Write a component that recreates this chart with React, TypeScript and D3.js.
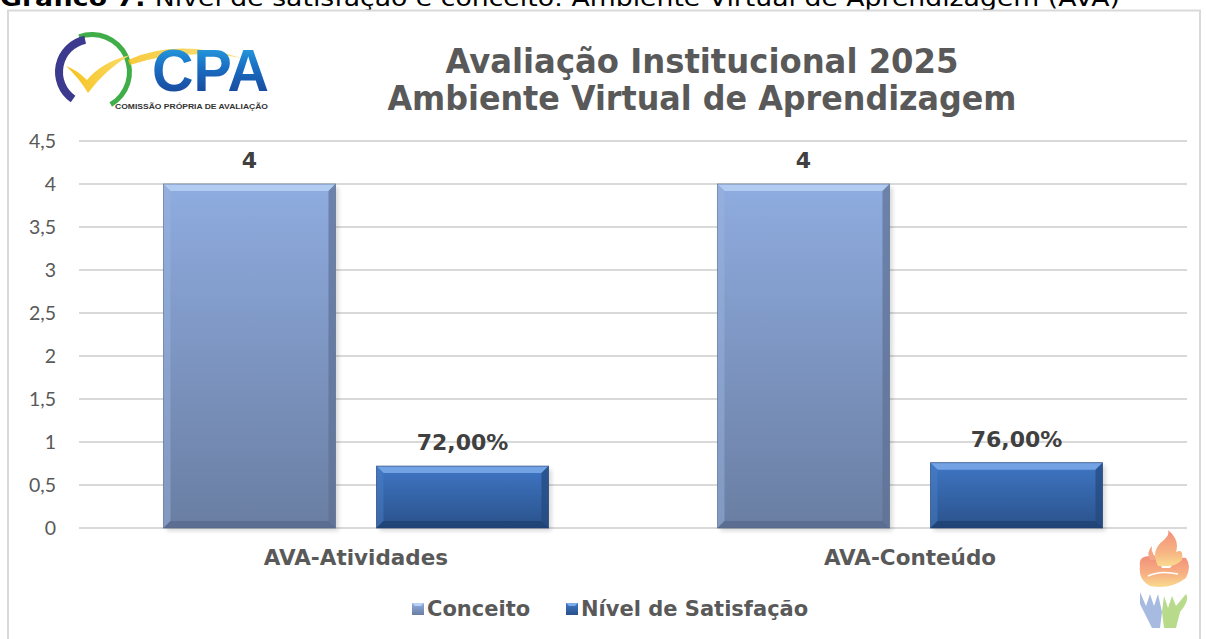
import React from "react";
import * as d3 from "d3";

const categories = ["AVA-Atividades", "AVA-Conteúdo"];
const seriesNames = ["Conceito", "Nível de Satisfação"];
const conceito = [4, 4];
const satisfacao = [0.72, 0.76];
const conceitoLabels = ["4", "4"];
const satisfacaoLabels = ["72,00%", "76,00%"];
const yTicks = [0, 0.5, 1, 1.5, 2, 2.5, 3, 3.5, 4, 4.5];
const yTickLabels = ["0", "0,5", "1", "1,5", "2", "2,5", "3", "3,5", "4", "4,5"];
const titleLines = ["Avaliação Institucional 2025", "Ambiente Virtual de Aprendizagem"];
const captionBold = "Gráfico 7: ";
const captionRest = "Nível de satisfação e conceito: Ambiente Virtual de Aprendizagem (AVA)";

const W = 1206;
const H = 639;
const plotLeft = 79;
const plotRight = 1187;
const plotTop = 141;
const plotBottom = 528;

const palettes = [
  { top: "#8FACE0", bottom: "#6A7EA2", hi: "#B8D0F5", side: "#9AB3DD", dark: "#5E7194", bot: "#55678A", id: "c" },
  { top: "#3F76C4", bottom: "#2A528B", hi: "#7DAAEB", side: "#4A7EC6", dark: "#23487D", bot: "#1E3E6E", id: "s" },
];

function Bar({ x, y, w, h, p }: any) {
  const b = Math.min(7, h / 4);
  return (
    <g>
      <rect x={x + 3} y={y + 3} width={w} height={h} fill="#000" opacity={0.15} filter="url(#blur)" />
      <rect x={x} y={y} width={w} height={h} fill={`url(#grad-${p.id})`} />
      <polygon points={`${x},${y} ${x + w},${y} ${x + w - b},${y + b} ${x + b},${y + b}`} fill={p.hi} opacity={0.85} />
      <polygon points={`${x},${y} ${x + b},${y + b} ${x + b},${y + h - b} ${x},${y + h}`} fill={p.side} opacity={0.5} />
      <polygon points={`${x + w},${y} ${x + w - b},${y + b} ${x + w - b},${y + h - b} ${x + w},${y + h}`} fill={p.dark} opacity={0.7} />
      <polygon points={`${x},${y + h} ${x + b},${y + h - b} ${x + w - b},${y + h - b} ${x + w},${y + h}`} fill={p.bot} opacity={0.7} />
      <rect x={x} y={y} width={w} height={h} fill="none" stroke={p.bot} strokeWidth={1} opacity={0.6} />
    </g>
  );
}

function Logo() {
  const cx = 92, cy = 72;
  const purple = d3.arc()({ innerRadius: 29, outerRadius: 37, startAngle: (-145 * Math.PI) / 180, endAngle: (-12 * Math.PI) / 180 } as any) as string;
  const green = d3.arc()({ innerRadius: 35, outerRadius: 40, startAngle: (-20 * Math.PI) / 180, endAngle: (150 * Math.PI) / 180 } as any) as string;
  return (
    <g>
      <defs>
        <linearGradient id="cpaGrad" x1="0" y1="0" x2="0" y2="1">
          <stop offset="0" stopColor="#2BB0EA" />
          <stop offset="0.45" stopColor="#1A6FC4" />
          <stop offset="1" stopColor="#173A8C" />
        </linearGradient>
        <linearGradient id="yel" x1="0" y1="0" x2="1" y2="0">
          <stop offset="0" stopColor="#F6C21C" />
          <stop offset="1" stopColor="#F9DC6A" />
        </linearGradient>
      </defs>
      <path d={green} transform={`translate(${cx},${cy})`} fill="#3FAE49" />
      <path d={purple} transform={`translate(${cx},${cy})`} fill="#3C3A8E" />
      <path d="M128,60 Q175,38 242,58 Q180,48 130,65 Z" fill="url(#yel)" opacity={0.85} />
      <path d="M66,66 Q77,70 87,80 Q102,62 130,55 Q105,70 88,93 Q79,78 66,66 Z" fill="url(#yel)" />
      <text x={152} y={91} fontFamily="'Liberation Sans Narrow', 'Liberation Sans', sans-serif" fontWeight="bold" fontSize={60} textLength={117} lengthAdjust="spacingAndGlyphs" fill="url(#cpaGrad)">CPA</text>
      <text x={115} y={109} fontFamily="'Liberation Sans', sans-serif" fontWeight="bold" fontSize={8} textLength={153} lengthAdjust="spacingAndGlyphs" fill="#333">COMISSÃO PRÓPRIA DE AVALIAÇÃO</text>
    </g>
  );
}

function FlameIcon() {
  return (
    <g opacity={0.75}>
      <defs>
        <linearGradient id="flame" x1="0" y1="0" x2="0" y2="1">
          <stop offset="0" stopColor="#EF6A4F" />
          <stop offset="0.6" stopColor="#F59A5A" />
          <stop offset="1" stopColor="#F8CF6A" />
        </linearGradient>
      </defs>
      <path d="M1140,566 Q1138,556 1150,556 Q1160,560 1162,568 L1170,568 Q1178,556 1186,558 Q1192,566 1186,578 Q1170,590 1150,586 Q1138,580 1140,566 Z" fill="url(#flame)" />
      <path d="M1150,560 Q1146,552 1152,546 Q1150,554 1160,560 Z" fill="#F08A5D" />
      <path d="M1158,566 Q1150,550 1164,540 Q1170,534 1168,530 Q1180,540 1176,552 Q1184,548 1182,560 Q1176,566 1168,566 Z" fill="url(#flame)" />
      <path d="M1148,576 Q1160,570 1178,574" stroke="#fff" strokeWidth={1.5} fill="none" />
      <path d="M1140,592 L1146,606 L1150,594 L1154,606 L1158,594 L1162,612 L1160,628 L1152,628 Q1146,616 1140,604 Z" fill="#8AA5D8" />
      <path d="M1186,594 Q1190,600 1180,612 L1176,628 L1164,628 L1162,612 L1164,596 L1168,608 L1172,596 L1176,606 Z" fill="#9FCF63" />
    </g>
  );
}

export default function App() {
  const x0 = d3.scaleBand<string>().domain(categories).range([plotLeft, plotRight]).paddingInner(0).paddingOuter(0);
  const x1 = d3.scaleBand<string>().domain(seriesNames).range([0, x0.bandwidth()]).paddingInner(0.1925).paddingOuter(0.3967);
  const y = d3.scaleLinear().domain([0, 4.5]).range([plotBottom, plotTop]);

  const series = [
    { name: seriesNames[0], values: conceito, labels: conceitoLabels, p: palettes[0] },
    { name: seriesNames[1], values: satisfacao, labels: satisfacaoLabels, p: palettes[1] },
  ];

  const verdana = "Verdana, 'DejaVu Sans', sans-serif";

  const legendItems = [
    { name: seriesNames[0], x: 412, p: palettes[0] },
    { name: seriesNames[1], x: 566, p: palettes[1] },
  ];

  return (
    <svg width={W} height={H} style={{ position: "absolute", left: 0, top: 0, background: "#fff" }} xmlns="http://www.w3.org/2000/svg">
      <defs>
        {palettes.map((p) => (
          <linearGradient key={p.id} id={`grad-${p.id}`} x1="0" y1="0" x2="0" y2="1">
            <stop offset="0" stopColor={p.top} />
            <stop offset="1" stopColor={p.bottom} />
          </linearGradient>
        ))}
        <filter id="blur" x="-10%" y="-10%" width="120%" height="120%">
          <feGaussianBlur stdDeviation="2" />
        </filter>
      </defs>
      <rect width={W} height={H} fill="#fff" />
      <text x={0} y={6} fontFamily={verdana} fontSize={23} fill="#000" textLength={1120} lengthAdjust="spacingAndGlyphs">
        <tspan fontWeight="bold">{captionBold}</tspan>
        <tspan>{captionRest}</tspan>
      </text>
      <rect x={8} y={10.5} width={1192} height={650} fill="none" stroke="#D9D9D9" strokeWidth={2} />

      <Logo />

      {titleLines.map((t, i) => (
        <text key={t} x={702} y={73 + i * 37} textAnchor="middle" fontFamily="'DejaVu Sans Condensed', 'DejaVu Sans', sans-serif" fontWeight="bold" fontSize={33} fill="#595959" textLength={i === 0 ? 513 : 629} lengthAdjust="spacingAndGlyphs">{t}</text>
      ))}

      {yTicks.map((t, i) => (
        <g key={t}>
          <line x1={plotLeft} x2={plotRight} y1={y(t)} y2={y(t)} stroke="#D9D9D9" strokeWidth={2} />
          <text x={56} y={y(t) + 6.5} textAnchor="end" fontFamily="Lato, 'Open Sans', sans-serif" fontSize={19.5} fill="#595959">{yTickLabels[i]}</text>
        </g>
      ))}

      {categories.map((c, ci) => (
        <g key={c}>
          {series.map((s) => {
            const bx = (x0(c) as number) + (x1(s.name) as number);
            const bw = x1.bandwidth();
            const by = y(s.values[ci]);
            return (
              <g key={s.name}>
                <Bar x={bx} y={by} w={bw} h={y(0) - by} p={s.p} />
                <text x={bx + bw / 2} y={by - 16} textAnchor="middle" fontFamily={verdana} fontWeight="bold" fontSize={22} fill="#404040">{s.labels[ci]}</text>
              </g>
            );
          })}
          <text x={(x0(c) as number) + x0.bandwidth() / 2} y={565} textAnchor="middle" fontFamily={verdana} fontWeight="bold" fontSize={21.5} fill="#595959">{c}</text>
        </g>
      ))}

      {legendItems.map((it) => (
        <g key={it.name}>
          <rect x={it.x} y={603} width={12} height={12} fill={`url(#grad-${it.p.id})`} />
          <polygon points={`${it.x},603 ${it.x + 12},603 ${it.x + 9},606 ${it.x + 3},606`} fill={it.p.hi} />
          <text x={it.x + 15} y={616} fontFamily={verdana} fontWeight="bold" fontSize={21} fill="#595959">{it.name}</text>
        </g>
      ))}

      <FlameIcon />
    </svg>
  );
}
